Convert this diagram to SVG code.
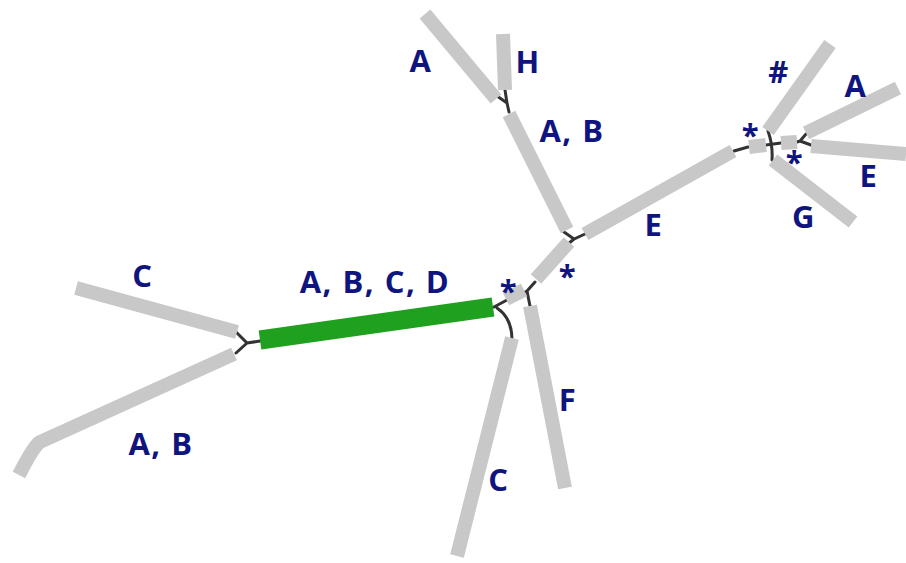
<svg xmlns="http://www.w3.org/2000/svg" width="906" height="563" viewBox="0 0 906 563">
<style>
.br{stroke:#c8c8c8;stroke-width:14;fill:none;stroke-linecap:butt;stroke-linejoin:round}
.gr{stroke:#1fa01f;stroke-width:19;fill:none}
.cn{stroke:#333;stroke-width:3;fill:none;stroke-linecap:round}
.lb{font-family:"Open Sans","DejaVu Sans",sans-serif;font-weight:bold;font-size:31px;letter-spacing:1.5px;fill:#10147e;text-anchor:middle}
</style>
<rect width="906" height="563" fill="#fff"/>
<g id="connectors">
<path class="cn" d="M236,332 L247,343 L236,353 M247,343 L260,341"/>
<path class="cn" d="M494,307 L507,300 M497,308 Q512,318 512,340 M523,293 L527,291 L535,282 M527,291 L530,306"/>
<path class="cn" d="M564,232 L574,239 L585,234 M574,239 L568,244"/>
<path class="cn" d="M497,96 L507,103 L505,90 M507,103 L509,112"/>
<path class="cn" d="M734,151 L748,147 M768,131 Q773,145 772,160 M766,145 L781,143 M806,134 L800,141 L811,145 M797,142 L800,141"/>
</g>
<g id="edge-c-left"><path class="br" d="M76,288 L237,332"/></g>
<g id="edge-ab-left"><path class="br" d="M234,354 L40,442 Q33,447 19,475"/></g>
<g id="edge-abcd"><path class="gr" d="M260,340 L493,307"/></g>
<g id="edge-star1"><path class="br" d="M506,299 L524,290"/></g>
<g id="edge-star2"><path class="br" d="M536,279 L569,242"/></g>
<g id="edge-f"><path class="br" d="M530,306 L565,488"/></g>
<g id="edge-c-bottom"><path class="br" d="M512,338 L457,556"/></g>
<g id="edge-ab-top"><path class="br" d="M567,230 L509,114"/></g>
<g id="edge-a-top"><path class="br" d="M496,99 L425,14"/></g>
<g id="edge-h"><path class="br" d="M505,90 L503,34"/></g>
<g id="edge-e"><path class="br" d="M585,234 L733,151"/></g>
<g id="edge-star3"><path class="br" d="M749,147 L766,145"/></g>
<g id="edge-hash"><path class="br" d="M768,131 L830,44"/></g>
<g id="edge-g"><path class="br" d="M773,160 L853,222"/></g>
<g id="edge-star4"><path class="br" d="M781,143 L797,142"/></g>
<g id="edge-a-right"><path class="br" d="M806,133 L898,88"/></g>
<g id="edge-e-right"><path class="br" d="M811,146 L906,154"/></g>
<g id="labels">
<text class="lb" x="421" y="72">A</text>
<text class="lb" x="528" y="73">H</text>
<text class="lb" x="572" y="142">A, B</text>
<text class="lb" x="654" y="236">E</text>
<text class="lb" x="779" y="83">#</text>
<text class="lb" x="856" y="97">A</text>
<text class="lb" x="869" y="187">E</text>
<text class="lb" x="804" y="228">G</text>
<text class="lb" x="751" y="146">*</text>
<text class="lb" x="795" y="173">*</text>
<text class="lb" x="509" y="302">*</text>
<text class="lb" x="568" y="287">*</text>
<text class="lb" x="143" y="287">C</text>
<text class="lb" x="375" y="293">A, B, C, D</text>
<text class="lb" x="161" y="455">A, B</text>
<text class="lb" x="568" y="411">F</text>
<text class="lb" x="499" y="491">C</text>
</g>
</svg>
